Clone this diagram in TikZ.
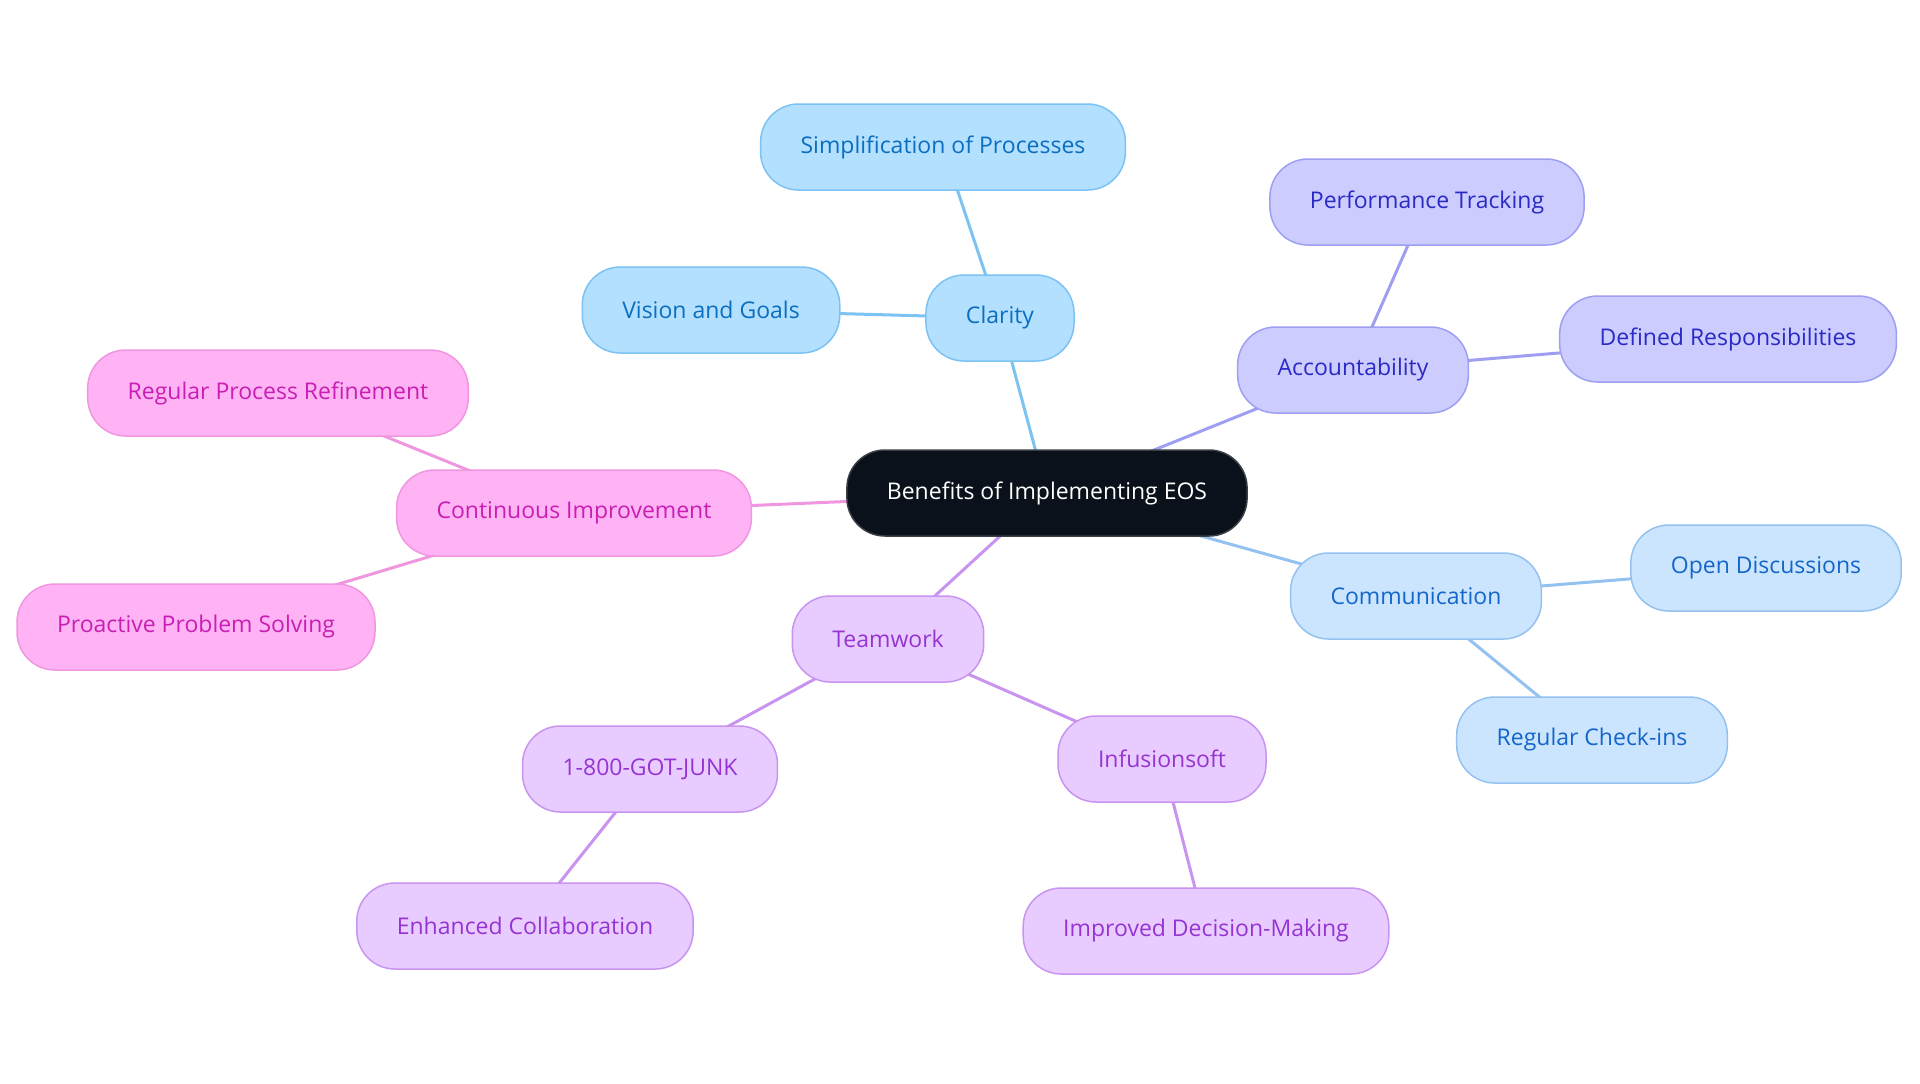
\documentclass[tikz,border=0pt]{standalone}
\usepackage{fontspec}
\setmainfont{Open Sans}
\usepackage{tikz}
\usetikzlibrary{backgrounds}

\definecolor{rootfill}{HTML}{0B111A}
\definecolor{rootline}{HTML}{3A3F46}
\definecolor{clarfill}{HTML}{B3E0FF}
\definecolor{clarline}{HTML}{7CC2F2}
\definecolor{clartext}{HTML}{0B6EBE}
\definecolor{accfill}{HTML}{CCCCFF}
\definecolor{accline}{HTML}{9E9EF2}
\definecolor{acctext}{HTML}{2A2AC4}
\definecolor{comfill}{HTML}{CCE5FF}
\definecolor{comline}{HTML}{94C2F0}
\definecolor{comtext}{HTML}{1466C8}
\definecolor{teamfill}{HTML}{E8CCFF}
\definecolor{teamline}{HTML}{C994F0}
\definecolor{teamtext}{HTML}{9634D2}
\definecolor{impfill}{HTML}{FFB3F5}
\definecolor{impline}{HTML}{F096E0}
\definecolor{imptext}{HTML}{C81EB4}

\begin{document}
\begin{tikzpicture}[x=0.5pt, y=-0.5pt,
    topic/.style={draw, line width=0.75pt, rounded corners=19pt, minimum height=43pt,
      inner xsep=20pt, font=\fontsize{11.5}{14}\selectfont},
    root/.style={topic, fill=rootfill, draw=rootline, text=white},
    clar/.style={topic, fill=clarfill, draw=clarline, text=clartext},
    acc/.style={topic, fill=accfill, draw=accline, text=acctext},
    com/.style={topic, fill=comfill, draw=comline, text=comtext},
    team/.style={topic, fill=teamfill, draw=teamline, text=teamtext},
    imp/.style={topic, fill=impfill, draw=impline, text=imptext},
    link/.style={line width=1.5pt}]
  \useasboundingbox (0,0) rectangle (1920,1083);
  % centre
  \node[root] (eos) at (1047,493) {Benefits of Implementing EOS};
  % clarity
  \node[clar] (clarity) at (1000,318) {Clarity};
  \node[clar] (simple) at (943,147) {Simplification of Processes};
  \node[clar] (vision) at (711,310) {Vision and Goals};
  % accountability
  \node[acc] (account) at (1353,370) {Accountability};
  \node[acc] (perform) at (1427,202) {Performance Tracking};
  \node[acc] (defined) at (1728,339) {Defined Responsibilities};
  % communication
  \node[com] (commun) at (1416,596) {Communication};
  \node[com] (open) at (1766,568) {Open Discussions};
  \node[com] (checkin) at (1592,740) {Regular Check-ins};
  % teamwork
  \node[team] (teamwork) at (888,639) {Teamwork};
  \node[team] (junk) at (650,769) {1-800-GOT-JUNK};
  \node[team] (collab) at (525,926) {Enhanced Collaboration};
  \node[team] (infusion) at (1162,759) {Infusionsoft};
  \node[team] (decision) at (1206,931) {Improved Decision-Making};
  % improvement
  \node[imp] (improve) at (574,513) {Continuous Improvement};
  \node[imp] (refine) at (278,393) {Regular Process Refinement};
  \node[imp] (proactive) at (196,627) {Proactive Problem Solving};

  \begin{scope}[on background layer]
    \draw[link, clarline] (eos.center) -- (clarity.center);
    \draw[link, clarline] (clarity.center) -- (simple.center);
    \draw[link, clarline] (clarity.center) -- (vision.center);
    \draw[link, accline] (eos.center) -- (account.center);
    \draw[link, accline] (account.center) -- (perform.center);
    \draw[link, accline] (account.center) -- (defined.center);
    \draw[link, comline] (eos.center) -- (commun.center);
    \draw[link, comline] (commun.center) -- (open.center);
    \draw[link, comline] (commun.center) -- (checkin.center);
    \draw[link, teamline] (eos.center) -- (teamwork.center);
    \draw[link, teamline] (teamwork.center) -- (junk.center);
    \draw[link, teamline] (junk.center) -- (collab.center);
    \draw[link, teamline] (teamwork.center) -- (infusion.center);
    \draw[link, teamline] (infusion.center) -- (decision.center);
    \draw[link, impline] (eos.center) -- (improve.center);
    \draw[link, impline] (improve.center) -- (refine.center);
    \draw[link, impline] (improve.center) -- (proactive.center);
  \end{scope}
\end{tikzpicture}
\end{document}
